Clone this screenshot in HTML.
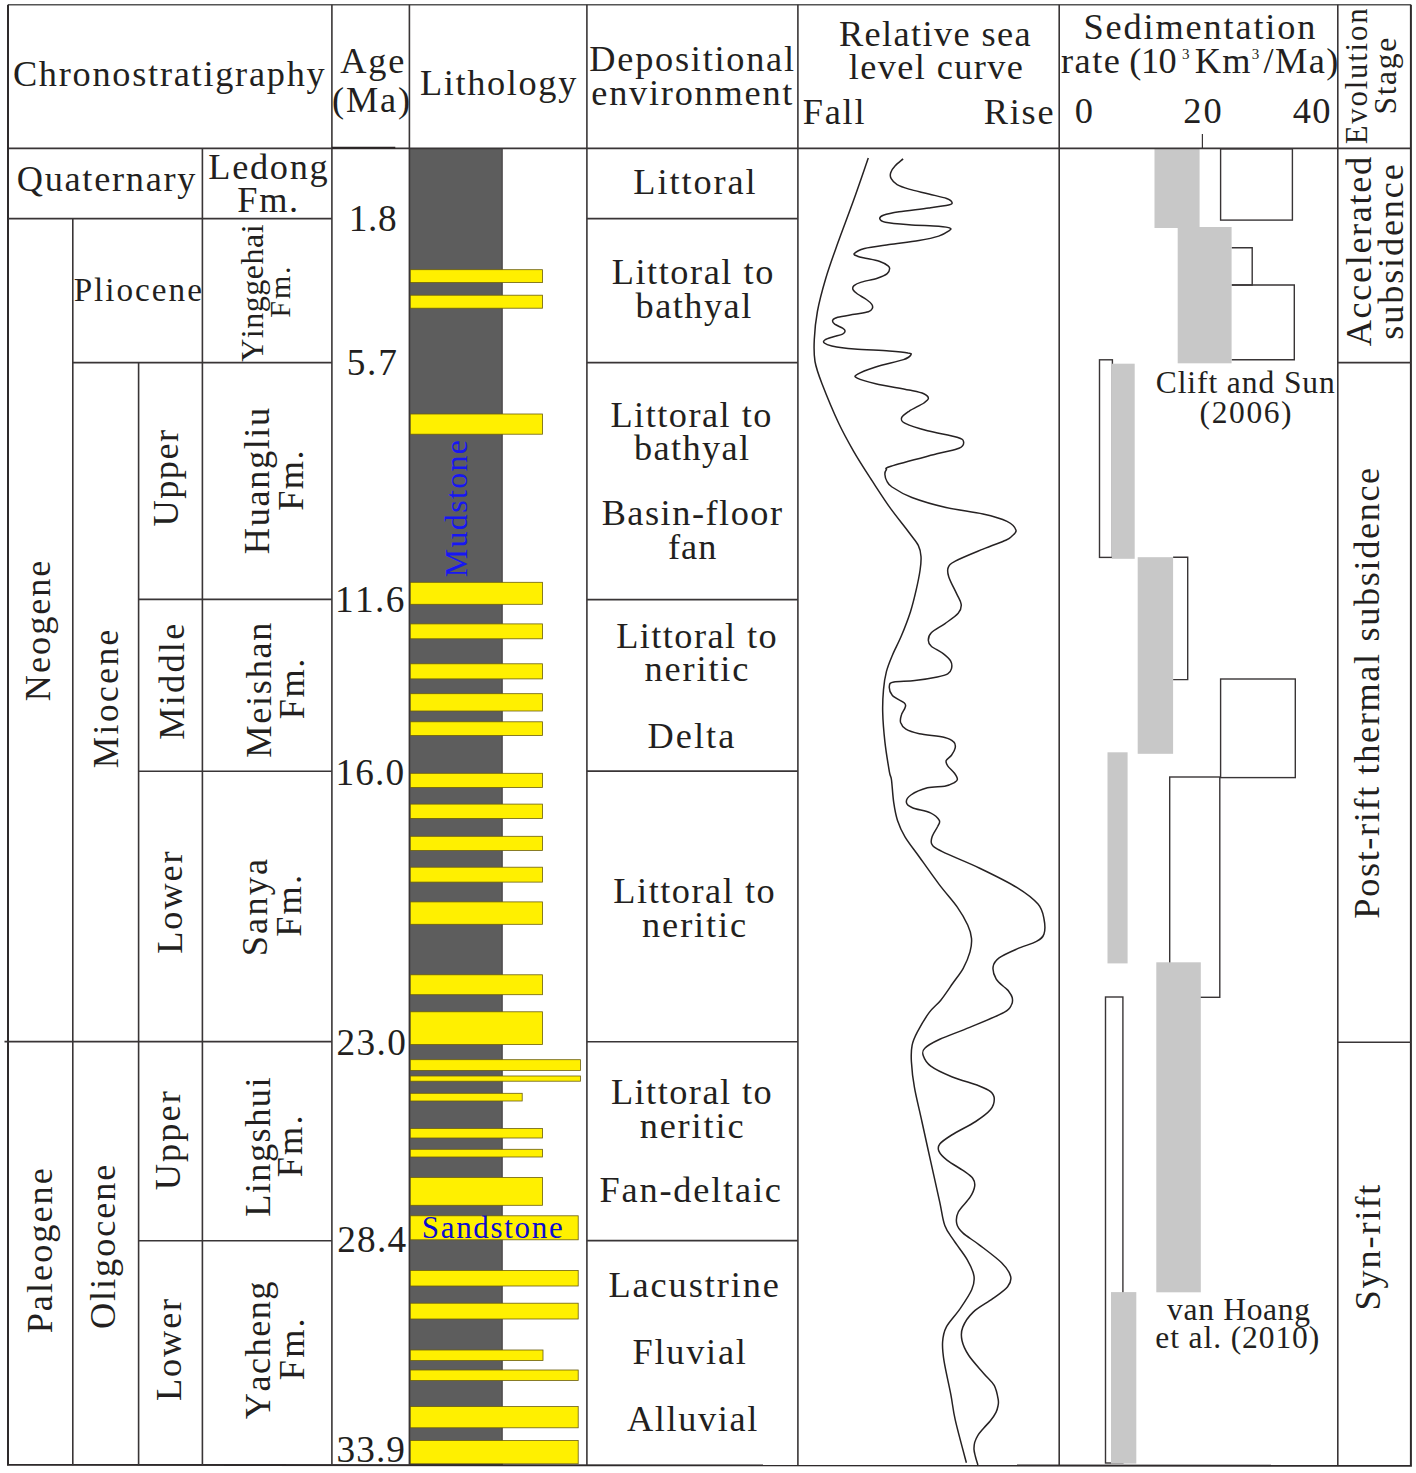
<!DOCTYPE html>
<html><head><meta charset="utf-8"><style>
html,body{margin:0;padding:0;background:#fff;}
svg{display:block;}
text{font-family:"Liberation Serif",serif;font-kerning:none;}
</style></head><body>
<svg width="1416" height="1473" viewBox="0 0 1416 1473">
<rect width="1416" height="1473" fill="#fff"/>
<rect x="409.4" y="148.4" width="93.2" height="1316.8" fill="#5d5d5d"/>
<line x1="502.1" y1="148.4" x2="502.1" y2="1465.2" stroke="#484345" stroke-width="1.0"/>
<rect x="410.2" y="269.7" width="132.4" height="12.9" fill="#fff000" stroke="#6b5e10" stroke-width="0.8"/>
<rect x="410.2" y="295.2" width="132.4" height="13.0" fill="#fff000" stroke="#6b5e10" stroke-width="0.8"/>
<rect x="410.2" y="414.0" width="132.4" height="20.2" fill="#fff000" stroke="#6b5e10" stroke-width="0.8"/>
<rect x="410.2" y="582.3" width="132.4" height="22.0" fill="#fff000" stroke="#6b5e10" stroke-width="0.8"/>
<rect x="410.2" y="623.9" width="132.4" height="14.9" fill="#fff000" stroke="#6b5e10" stroke-width="0.8"/>
<rect x="410.2" y="663.8" width="132.4" height="15.1" fill="#fff000" stroke="#6b5e10" stroke-width="0.8"/>
<rect x="410.2" y="693.7" width="132.4" height="17.3" fill="#fff000" stroke="#6b5e10" stroke-width="0.8"/>
<rect x="410.2" y="721.8" width="132.4" height="13.7" fill="#fff000" stroke="#6b5e10" stroke-width="0.8"/>
<rect x="410.2" y="773.3" width="132.4" height="14.2" fill="#fff000" stroke="#6b5e10" stroke-width="0.8"/>
<rect x="410.2" y="804.1" width="132.4" height="14.3" fill="#fff000" stroke="#6b5e10" stroke-width="0.8"/>
<rect x="410.2" y="836.3" width="132.4" height="14.2" fill="#fff000" stroke="#6b5e10" stroke-width="0.8"/>
<rect x="410.2" y="867.2" width="132.4" height="14.9" fill="#fff000" stroke="#6b5e10" stroke-width="0.8"/>
<rect x="410.2" y="901.9" width="132.4" height="22.4" fill="#fff000" stroke="#6b5e10" stroke-width="0.8"/>
<rect x="410.2" y="974.8" width="132.4" height="19.9" fill="#fff000" stroke="#6b5e10" stroke-width="0.8"/>
<rect x="410.2" y="1011.8" width="132.4" height="32.8" fill="#fff000" stroke="#6b5e10" stroke-width="0.8"/>
<rect x="410.2" y="1059.7" width="170.2" height="10.7" fill="#fff000" stroke="#6b5e10" stroke-width="0.8"/>
<rect x="410.2" y="1076.0" width="170.2" height="5.2" fill="#fff000" stroke="#6b5e10" stroke-width="0.8"/>
<rect x="410.2" y="1093.3" width="112.0" height="7.7" fill="#fff000" stroke="#6b5e10" stroke-width="0.8"/>
<rect x="410.2" y="1128.5" width="132.4" height="9.5" fill="#fff000" stroke="#6b5e10" stroke-width="0.8"/>
<rect x="410.2" y="1149.3" width="132.4" height="7.7" fill="#fff000" stroke="#6b5e10" stroke-width="0.8"/>
<rect x="410.2" y="1177.4" width="132.4" height="27.9" fill="#fff000" stroke="#6b5e10" stroke-width="0.8"/>
<rect x="410.2" y="1215.8" width="168.0" height="24.0" fill="#fff000" stroke="#6b5e10" stroke-width="0.8"/>
<rect x="410.2" y="1270.4" width="168.0" height="15.6" fill="#fff000" stroke="#6b5e10" stroke-width="0.8"/>
<rect x="410.2" y="1303.2" width="168.0" height="15.8" fill="#fff000" stroke="#6b5e10" stroke-width="0.8"/>
<rect x="410.2" y="1350.0" width="132.8" height="10.6" fill="#fff000" stroke="#6b5e10" stroke-width="0.8"/>
<rect x="410.2" y="1370.0" width="168.0" height="10.5" fill="#fff000" stroke="#6b5e10" stroke-width="0.8"/>
<rect x="410.2" y="1406.6" width="168.0" height="21.2" fill="#fff000" stroke="#6b5e10" stroke-width="0.8"/>
<rect x="410.2" y="1440.5" width="168.0" height="23.3" fill="#fff000" stroke="#6b5e10" stroke-width="0.8"/>
<rect x="1220.6" y="148.9" width="71.8" height="71.2" fill="none" stroke="#393536" stroke-width="1.4"/>
<path d="M1231.6,247.8 H1252.2 V285 H1231.6" fill="none" stroke="#393536" stroke-width="1.4"/>
<path d="M1231.6,285 H1294.3 V359.8 H1231.6" fill="none" stroke="#393536" stroke-width="1.4"/>
<rect x="1099.5" y="359.8" width="12.9" height="197.6" fill="none" stroke="#393536" stroke-width="1.4"/>
<path d="M1173.1,557.2 H1187.7 V679.6 H1173.1" fill="none" stroke="#393536" stroke-width="1.4"/>
<rect x="1220.6" y="679" width="74.7" height="98.6" fill="none" stroke="#393536" stroke-width="1.4"/>
<rect x="1169.7" y="777" width="50.1" height="220.3" fill="none" stroke="#393536" stroke-width="1.4"/>
<rect x="1105.5" y="997" width="17.4" height="466.0" fill="none" stroke="#393536" stroke-width="1.4"/>
<rect x="1154.5" y="148.3" width="45.1" height="79.7" fill="#c8c8c8"/>
<rect x="1177.7" y="227" width="53.9" height="136.3" fill="#c8c8c8"/>
<rect x="1111.8" y="363.7" width="22.9" height="195.1" fill="#c8c8c8"/>
<rect x="1137.7" y="557.2" width="35.4" height="196.6" fill="#c8c8c8"/>
<rect x="1107.5" y="752.3" width="20.1" height="211.1" fill="#c8c8c8"/>
<rect x="1156.3" y="962.3" width="44.5" height="330.0" fill="#c8c8c8"/>
<rect x="1111" y="1292.1" width="25.3" height="171.5" fill="#c8c8c8"/>
<line x1="8.0" y1="4.8" x2="1410.9" y2="4.8" stroke="#555" stroke-width="1.4"/>
<line x1="8.0" y1="148.4" x2="1410.9" y2="148.4" stroke="#393536" stroke-width="1.6"/>
<line x1="7.0" y1="1464.9" x2="1411.9" y2="1465.8" stroke="#2e2a2b" stroke-width="1.9"/>
<line x1="8.0" y1="4.8" x2="8.0" y2="1465.2" stroke="#2e2a2b" stroke-width="2.0"/>
<line x1="331.9" y1="4.8" x2="331.9" y2="1465.2" stroke="#393536" stroke-width="1.6"/>
<line x1="409.4" y1="4.8" x2="409.4" y2="1465.2" stroke="#393536" stroke-width="1.6"/>
<line x1="586.9" y1="4.8" x2="586.9" y2="1465.2" stroke="#393536" stroke-width="1.6"/>
<line x1="797.9" y1="4.8" x2="797.9" y2="1465.2" stroke="#393536" stroke-width="1.6"/>
<line x1="1059.2" y1="4.8" x2="1059.2" y2="1465.2" stroke="#393536" stroke-width="1.6"/>
<line x1="1337.8" y1="4.8" x2="1337.8" y2="1465.2" stroke="#393536" stroke-width="1.6"/>
<line x1="1410.9" y1="4.8" x2="1410.9" y2="1465.2" stroke="#2e2a2b" stroke-width="2.0"/>
<line x1="331.9" y1="147.8" x2="395.3" y2="147.8" stroke="#2a2526" stroke-width="2.0"/>
<line x1="72.8" y1="218.5" x2="72.8" y2="1465.2" stroke="#393536" stroke-width="1.6"/>
<line x1="138.6" y1="362.6" x2="138.6" y2="1465.2" stroke="#393536" stroke-width="1.6"/>
<line x1="202.4" y1="148.4" x2="202.4" y2="1465.2" stroke="#393536" stroke-width="1.6"/>
<line x1="8.0" y1="218.6" x2="331.9" y2="218.6" stroke="#393536" stroke-width="1.6"/>
<line x1="586.9" y1="218.6" x2="797.9" y2="218.6" stroke="#393536" stroke-width="1.6"/>
<line x1="72.8" y1="362.6" x2="331.9" y2="362.6" stroke="#393536" stroke-width="1.6"/>
<line x1="586.9" y1="362.6" x2="797.9" y2="362.6" stroke="#393536" stroke-width="1.6"/>
<line x1="1337.8" y1="362.6" x2="1410.9" y2="362.6" stroke="#393536" stroke-width="1.6"/>
<line x1="138.6" y1="599.4" x2="331.9" y2="599.4" stroke="#393536" stroke-width="1.6"/>
<line x1="586.9" y1="599.6" x2="797.9" y2="599.6" stroke="#393536" stroke-width="1.6"/>
<line x1="138.6" y1="771.2" x2="331.9" y2="771.2" stroke="#393536" stroke-width="1.6"/>
<line x1="586.9" y1="771.1" x2="797.9" y2="771.1" stroke="#393536" stroke-width="1.6"/>
<line x1="4.5" y1="1041.6" x2="331.9" y2="1041.6" stroke="#393536" stroke-width="1.6"/>
<line x1="586.9" y1="1041.8" x2="797.9" y2="1041.8" stroke="#393536" stroke-width="1.6"/>
<line x1="1337.8" y1="1042.2" x2="1410.9" y2="1042.2" stroke="#393536" stroke-width="1.6"/>
<line x1="138.6" y1="1240.8" x2="331.9" y2="1240.8" stroke="#393536" stroke-width="1.6"/>
<line x1="586.9" y1="1240.6" x2="797.9" y2="1240.6" stroke="#393536" stroke-width="1.6"/>
<line x1="1202.4" y1="134" x2="1202.4" y2="148.4" stroke="#393536" stroke-width="1.2"/>
<path d="M868.3,158.0 C865.8,165.1 858.6,186.3 853.5,200.5 C848.4,214.7 842.4,230.1 837.8,243.0 C833.2,255.9 829.2,266.8 825.8,278.2 C822.4,289.6 819.3,301.3 817.4,311.5 C815.5,321.7 814.7,331.0 814.3,339.3 C813.9,347.6 813.7,354.1 815.0,361.5 C816.3,368.9 818.0,373.4 822.0,383.7 C826.0,394.0 833.5,412.1 838.7,423.3 C844.0,434.5 848.0,441.5 853.5,451.1 C859.0,460.7 865.8,471.1 872.0,480.7 C878.2,490.2 884.3,499.8 890.5,508.4 C896.7,517.0 904.4,526.3 909.0,532.5 C913.6,538.7 916.3,541.4 918.3,545.4 C920.3,549.4 920.7,552.4 921.0,556.5 C921.3,560.6 920.9,564.5 920.1,570.0 C919.3,575.5 917.9,582.4 916.3,589.4 C914.7,596.4 912.9,604.2 910.4,611.9 C907.9,619.6 904.4,628.6 901.4,635.8 C898.4,643.0 894.9,649.2 892.4,655.2 C889.9,661.2 887.9,665.9 886.4,671.6 C884.9,677.3 884.1,682.9 883.5,689.6 C882.9,696.3 882.5,703.3 882.7,712.0 C882.9,720.7 883.8,731.9 884.9,741.9 C886.0,751.9 888.3,765.4 889.4,771.8 C890.5,778.1 890.8,774.9 891.5,780.0 C892.2,785.1 892.7,795.7 893.7,802.4 C894.7,809.1 895.6,814.7 897.5,820.4 C899.4,826.1 901.3,830.6 905.0,836.8 C908.7,843.0 914.2,849.7 919.9,857.7 C925.6,865.7 933.1,876.4 939.3,884.6 C945.5,892.8 952.6,900.4 957.3,907.1 C962.0,913.8 965.3,919.8 967.7,925.0 C970.1,930.2 971.1,933.9 971.5,938.4 C971.9,942.9 971.4,946.9 970.0,951.9 C968.6,956.9 966.1,963.1 963.2,968.3 C960.3,973.5 956.5,978.0 952.8,983.3 C949.1,988.6 944.7,995.4 940.8,1000.2 C936.9,1005.1 933.2,1007.1 929.3,1012.4 C925.4,1017.7 920.3,1026.4 917.4,1031.9 C914.5,1037.4 913.1,1040.3 912.1,1045.3 C911.1,1050.3 911.0,1054.7 911.4,1061.7 C911.8,1068.7 912.6,1077.2 914.4,1087.2 C916.1,1097.2 919.2,1109.0 921.9,1121.5 C924.6,1134.0 927.8,1148.4 930.8,1161.9 C933.8,1175.4 937.5,1191.7 939.8,1202.3 C942.1,1212.9 942.5,1219.1 944.8,1225.4 C947.1,1231.8 950.0,1234.7 953.8,1240.4 C957.5,1246.1 963.9,1253.8 967.3,1259.8 C970.7,1265.8 973.3,1271.2 974.0,1276.2 C974.7,1281.2 974.1,1284.2 971.7,1289.7 C969.3,1295.2 964.0,1302.9 959.8,1309.1 C955.6,1315.3 949.2,1321.6 946.3,1327.1 C943.4,1332.6 943.0,1336.3 942.6,1342.0 C942.2,1347.7 942.7,1352.7 944.1,1361.4 C945.5,1370.1 948.9,1384.5 950.8,1394.3 C952.7,1404.1 952.7,1408.8 955.3,1420.2 C957.9,1431.6 964.5,1455.7 966.4,1462.8" fill="none" stroke="#262223" stroke-width="1.5"/>
<path d="M903.1,158.9 C901.8,160.1 897.3,163.5 895.2,165.8 C893.1,168.1 891.4,170.5 890.7,172.7 C890.0,174.8 890.1,176.7 891.2,178.7 C892.3,180.7 894.1,182.9 897.1,184.6 C900.1,186.3 903.7,187.5 909.0,189.1 C914.3,190.7 922.5,192.4 928.8,194.0 C935.1,195.6 942.7,197.1 946.6,198.5 C950.5,199.9 951.7,201.3 952.0,202.4 C952.3,203.5 952.5,204.0 948.6,204.9 C944.7,205.8 937.0,206.8 928.8,207.9 C920.5,209.1 906.7,210.6 899.1,211.8 C891.5,213.0 886.5,214.2 883.3,215.3 C880.1,216.5 879.5,217.5 879.8,218.7 C880.1,219.8 880.4,221.2 885.3,222.2 C890.2,223.2 900.1,224.0 909.0,224.7 C917.9,225.4 931.9,225.6 938.7,226.2 C945.6,226.8 948.5,227.3 950.1,228.1 C951.8,228.9 950.5,229.8 948.6,231.1 C946.7,232.4 943.7,234.5 938.7,236.1 C933.8,237.7 927.1,239.1 918.9,240.5 C910.6,241.9 898.3,243.2 889.2,244.5 C880.1,245.8 870.3,246.9 864.5,248.4 C858.7,249.9 855.5,252.2 854.3,253.5 C853.1,254.8 855.6,255.4 857.5,256.2 C859.4,257.0 861.8,257.4 865.4,258.2 C869.0,259.0 875.4,259.9 879.2,261.2 C883.0,262.5 886.4,264.5 888.1,265.8 C889.8,267.1 889.8,267.5 889.6,268.8 C889.5,270.1 889.2,272.1 887.2,273.7 C885.2,275.3 881.6,276.8 877.3,278.2 C873.0,279.6 865.3,280.9 861.4,282.1 C857.5,283.3 855.4,284.4 854.0,285.6 C852.6,286.9 852.4,288.2 853.0,289.6 C853.6,291.0 855.3,292.4 857.5,294.0 C859.7,295.6 864.0,297.8 866.4,299.5 C868.8,301.2 870.8,302.9 871.8,304.4 C872.8,305.9 872.9,307.2 872.3,308.4 C871.7,309.6 871.4,310.8 868.4,311.8 C865.4,312.8 859.6,313.4 854.5,314.3 C849.4,315.2 841.3,316.3 837.7,317.3 C834.1,318.3 833.2,319.1 832.7,320.2 C832.2,321.3 833.1,322.9 834.7,324.2 C836.4,325.5 840.9,327.0 842.6,328.1 C844.3,329.2 845.1,330.1 845.1,331.1 C845.1,332.1 844.7,333.1 842.6,334.1 C840.5,335.1 835.7,336.0 832.7,337.0 C829.7,338.0 826.2,339.0 824.8,340.0 C823.4,341.0 823.1,342.0 824.3,343.0 C825.5,344.0 826.8,344.9 831.8,345.9 C836.8,346.9 845.0,348.1 854.5,348.9 C864.0,349.7 880.2,350.2 889.1,350.9 C898.0,351.6 904.3,352.2 907.9,352.9 C911.5,353.5 911.6,353.7 910.9,354.8 C910.2,355.9 909.4,357.6 903.5,359.6 C897.6,361.6 883.4,364.5 875.7,367.0 C868.0,369.5 860.3,372.5 857.2,374.4 C854.1,376.2 854.1,376.6 857.2,378.1 C860.3,379.7 867.1,381.7 875.7,383.7 C884.3,385.7 901.0,388.3 909.0,390.0 C917.0,391.7 920.6,392.3 923.8,393.7 C927.0,395.1 928.4,396.8 928.4,398.3 C928.4,399.9 927.0,400.8 923.8,403.0 C920.6,405.2 912.7,408.8 909.0,411.3 C905.3,413.8 902.2,415.8 901.6,417.8 C901.0,419.8 901.0,421.2 905.3,423.3 C909.6,425.4 918.9,428.4 927.5,430.7 C936.1,433.0 951.1,435.3 957.1,437.2 C963.1,439.1 963.3,439.9 963.6,441.8 C963.9,443.7 963.5,446.3 959.0,448.3 C954.5,450.3 948.1,450.8 936.8,453.8 C925.5,456.8 899.4,463.5 891.0,466.2 C882.6,468.9 887.3,468.4 886.3,469.8 C885.3,471.2 884.8,472.6 884.9,474.5 C885.0,476.4 885.6,478.9 886.8,481.0 C888.0,483.1 887.8,484.2 892.0,487.0 C896.2,489.8 902.9,494.1 911.9,497.5 C920.9,500.9 934.1,504.8 946.0,507.5 C957.9,510.2 972.8,511.7 983.0,514.0 C993.2,516.3 1001.5,518.7 1007.0,521.4 C1012.5,524.1 1015.2,527.7 1016.0,530.2 C1016.8,532.7 1013.2,534.8 1011.5,536.5 C1009.8,538.2 1010.5,538.2 1005.8,540.3 C1001.0,542.4 991.4,545.6 983.0,549.1 C974.6,552.6 961.1,558.0 955.3,561.1 C949.5,564.2 949.3,565.0 948.2,567.6 C947.1,570.2 947.4,572.5 948.8,576.9 C950.2,581.3 954.6,589.3 956.7,593.9 C958.8,598.5 961.0,601.2 961.2,604.4 C961.5,607.6 961.0,610.1 958.2,613.3 C955.5,616.5 949.2,620.5 944.7,623.8 C940.2,627.0 934.0,630.0 931.3,632.8 C928.6,635.5 928.3,638.1 928.3,640.3 C928.3,642.5 928.8,644.0 931.3,646.2 C933.8,648.4 940.0,651.2 943.2,653.7 C946.4,656.2 949.3,658.7 950.7,661.2 C952.1,663.7 952.0,666.6 951.5,668.7 C951.0,670.8 950.1,672.5 947.7,673.9 C945.3,675.3 942.8,675.8 937.3,676.9 C931.8,678.0 922.0,679.7 914.8,680.6 C907.6,681.5 898.1,681.2 893.9,682.1 C889.7,683.0 889.6,683.5 889.4,685.8 C889.1,688.0 889.9,692.7 892.4,695.6 C894.9,698.5 902.3,701.0 904.4,703.0 C906.5,705.0 905.6,705.5 905.1,707.5 C904.6,709.5 902.1,712.5 901.4,715.0 C900.6,717.5 899.9,720.1 900.6,722.5 C901.4,724.9 902.8,727.3 905.9,729.2 C909.0,731.1 912.8,732.3 919.3,733.7 C925.8,735.1 939.0,736.0 944.7,737.4 C950.4,738.8 952.0,740.1 953.7,741.9 C955.5,743.6 955.6,745.7 955.2,747.9 C954.8,750.1 953.0,753.2 951.5,755.3 C950.0,757.4 946.8,758.9 946.2,760.6 C945.6,762.4 946.3,763.7 947.7,765.8 C949.1,767.9 952.9,771.0 954.5,773.3 C956.1,775.5 957.4,777.8 957.4,779.3 C957.4,780.8 956.6,781.4 954.5,782.5 C952.4,783.6 949.2,785.3 944.7,786.2 C940.2,787.1 933.0,786.3 927.4,787.8 C921.8,789.3 914.4,792.6 910.9,795.0 C907.4,797.4 906.1,800.3 906.4,802.4 C906.6,804.5 908.4,806.0 912.4,807.7 C916.4,809.5 925.9,810.8 930.4,812.9 C934.9,815.0 938.1,818.2 939.3,820.4 C940.5,822.6 938.9,823.7 937.8,826.3 C936.6,828.9 933.4,833.0 932.4,836.0 C931.4,839.0 930.2,841.7 931.9,844.3 C933.5,846.9 934.3,847.7 942.3,851.7 C950.3,855.7 967.2,862.2 979.7,868.2 C992.2,874.2 1007.4,881.6 1017.1,887.6 C1026.8,893.6 1033.5,898.9 1038.0,904.1 C1042.5,909.3 1043.0,914.0 1044.0,919.0 C1045.0,924.0 1045.2,930.3 1044.0,934.0 C1042.8,937.7 1041.0,938.9 1036.5,941.4 C1032.0,943.9 1023.3,946.1 1017.1,948.9 C1010.9,951.6 1003.1,954.9 999.1,957.9 C995.1,960.9 993.6,963.3 993.1,966.8 C992.6,970.3 994.1,975.3 996.1,978.8 C998.1,982.3 1003.0,985.8 1005.1,987.8 C1007.2,989.8 1007.3,989.4 1008.5,991.0 C1009.7,992.6 1011.7,995.2 1012.2,997.5 C1012.7,999.8 1013.0,1002.0 1011.6,1004.5 C1010.2,1007.0 1011.1,1008.6 1004.1,1012.4 C997.1,1016.2 980.4,1022.9 969.7,1027.4 C959.0,1031.9 947.3,1035.8 939.8,1039.3 C932.3,1042.8 927.5,1045.5 924.8,1048.3 C922.0,1051.0 922.3,1052.8 923.3,1055.8 C924.3,1058.8 926.1,1062.7 930.8,1066.2 C935.5,1069.7 943.7,1073.5 951.7,1076.7 C959.7,1080.0 972.2,1083.2 978.7,1085.7 C985.2,1088.2 988.0,1089.4 990.6,1091.6 C993.2,1093.8 994.3,1096.1 994.3,1099.1 C994.3,1102.1 993.7,1105.9 990.6,1109.6 C987.5,1113.3 982.2,1117.3 975.7,1121.5 C969.2,1125.7 957.7,1131.2 951.7,1135.0 C945.7,1138.8 941.9,1141.3 939.8,1144.0 C937.7,1146.7 937.8,1148.7 939.0,1151.4 C940.2,1154.1 943.2,1157.2 947.3,1160.4 C951.4,1163.7 959.5,1167.9 963.7,1170.9 C967.9,1173.9 970.9,1175.8 972.7,1178.3 C974.5,1180.8 975.1,1182.9 974.7,1186.1 C974.3,1189.2 972.8,1192.9 970.1,1197.2 C967.4,1201.5 960.5,1207.5 958.3,1212.0 C956.1,1216.5 956.0,1220.4 956.8,1223.9 C957.5,1227.4 959.1,1229.4 962.8,1232.9 C966.5,1236.4 972.7,1239.8 979.2,1244.8 C985.7,1249.8 996.4,1257.6 1001.6,1262.8 C1006.8,1268.0 1009.6,1272.2 1010.6,1276.2 C1011.6,1280.2 1010.6,1283.0 1007.6,1286.7 C1004.6,1290.5 998.4,1294.5 992.7,1298.7 C987.0,1302.9 978.2,1307.4 973.2,1312.1 C968.2,1316.8 964.7,1322.4 962.8,1327.1 C960.9,1331.8 961.0,1335.8 962.0,1340.5 C963.0,1345.2 965.2,1350.0 968.8,1355.5 C972.4,1361.0 979.5,1368.4 983.7,1373.4 C987.9,1378.4 991.8,1381.1 994.2,1385.4 C996.6,1389.8 997.6,1396.1 998.2,1399.5 C998.8,1402.9 998.4,1403.9 998.0,1406.0 C997.6,1408.1 997.2,1409.9 996.0,1412.3 C994.8,1414.7 992.7,1417.8 990.6,1420.5 C988.5,1423.2 985.7,1425.7 983.6,1428.2 C981.5,1430.7 979.4,1432.9 977.9,1435.3 C976.4,1437.7 975.4,1440.1 974.7,1442.4 C974.1,1444.8 973.9,1447.1 974.0,1449.4 C974.1,1451.8 974.8,1453.9 975.4,1456.5 C976.0,1459.1 977.5,1463.6 977.9,1465.0" fill="none" stroke="#262223" stroke-width="1.5"/>
<text x="12.91" y="85.80" font-size="36.3" letter-spacing="1.738" fill="#231f20">Chronostratigraphy</text>
<text x="340.35" y="72.60" font-size="36.3" letter-spacing="1.818" fill="#231f20">Age</text>
<text x="332.10" y="112.20" font-size="36.3" letter-spacing="1.809" fill="#231f20">(Ma)</text>
<text x="419.95" y="94.80" font-size="36.3" letter-spacing="1.651" fill="#231f20">Lithology</text>
<text x="589.35" y="71.30" font-size="36.3" letter-spacing="1.742" fill="#231f20">Depositional</text>
<text x="591.28" y="104.80" font-size="36.3" letter-spacing="1.766" fill="#231f20">environment</text>
<text x="838.95" y="45.60" font-size="36.3" letter-spacing="1.397" fill="#231f20">Relative sea</text>
<text x="848.67" y="79.40" font-size="36.3" letter-spacing="1.395" fill="#231f20">level curve</text>
<text x="802.85" y="123.70" font-size="36.3" letter-spacing="1.734" fill="#231f20">Fall</text>
<text x="983.75" y="123.70" font-size="36.3" letter-spacing="1.756" fill="#231f20">Rise</text>
<text x="1083.47" y="39.30" font-size="36.3" letter-spacing="1.856" fill="#231f20">Sedimentation</text>
<text x="1061.07" y="72.90" font-size="36.3" letter-spacing="1.463" fill="#231f20">rate</text>
<text x="1129.30" y="72.90" font-size="36.3" letter-spacing="-0.505" fill="#231f20">(10</text>
<text x="1181.98" y="58.60" font-size="15" letter-spacing="0.000" fill="#231f20">3</text>
<text x="1194.65" y="72.90" font-size="36.3" letter-spacing="1.463" fill="#231f20">Km</text>
<text x="1251.68" y="58.60" font-size="15" letter-spacing="0.000" fill="#231f20">3</text>
<text x="1263.40" y="72.90" font-size="36.3" letter-spacing="1.445" fill="#231f20">/Ma)</text>
<text x="1074.81" y="122.80" font-size="36.5" letter-spacing="0.000" fill="#231f20">0</text>
<text x="1183.20" y="122.80" font-size="36.5" letter-spacing="2.094" fill="#231f20">20</text>
<text x="1292.79" y="122.80" font-size="36.5" letter-spacing="1.203" fill="#231f20">40</text>
<text transform="translate(1366.60,143.40) rotate(-90)" x="-0.88" y="0" font-size="30.7" letter-spacing="1.845" fill="#231f20">Evolution</text>
<text transform="translate(1395.90,112.40) rotate(-90)" x="-2.11" y="0" font-size="31.5" letter-spacing="1.679" fill="#231f20">Stage</text>
<text x="16.71" y="191.00" font-size="36.3" letter-spacing="1.719" fill="#231f20">Quaternary</text>
<text x="208.35" y="178.80" font-size="36.3" letter-spacing="1.690" fill="#231f20">Ledong</text>
<text x="237.25" y="212.30" font-size="36.3" letter-spacing="1.720" fill="#231f20">Fm.</text>
<text x="73.64" y="300.60" font-size="33.2" letter-spacing="1.998" fill="#231f20">Pliocene</text>
<text transform="translate(262.60,361.50) rotate(-90)" x="-0.36" y="0" font-size="32" letter-spacing="0.534" fill="#231f20">Yinggehai</text>
<text transform="translate(290.00,316.80) rotate(-90)" x="-0.86" y="0" font-size="30" letter-spacing="1.861" fill="#231f20">Fm.</text>
<text transform="translate(177.67,525.70) rotate(-90)" x="-0.76" y="0" font-size="36.3" letter-spacing="1.442" fill="#231f20">Upper</text>
<text transform="translate(269.20,553.10) rotate(-90)" x="-1.05" y="0" font-size="36.3" letter-spacing="1.610" fill="#231f20">Huangliu</text>
<text transform="translate(302.70,509.60) rotate(-90)" x="-1.05" y="0" font-size="36.3" letter-spacing="1.320" fill="#231f20">Fm.</text>
<text transform="translate(49.90,700.10) rotate(-90)" x="-1.05" y="0" font-size="36.3" letter-spacing="1.934" fill="#231f20">Neogene</text>
<text transform="translate(117.60,767.30) rotate(-90)" x="-1.02" y="0" font-size="35.3" letter-spacing="2.507" fill="#231f20">Miocene</text>
<text transform="translate(183.89,738.70) rotate(-90)" x="-1.05" y="0" font-size="36.3" letter-spacing="2.229" fill="#231f20">Middle</text>
<text transform="translate(270.79,756.70) rotate(-90)" x="-1.05" y="0" font-size="36.3" letter-spacing="1.697" fill="#231f20">Meishan</text>
<text transform="translate(303.67,718.30) rotate(-90)" x="-1.05" y="0" font-size="36.3" letter-spacing="1.620" fill="#231f20">Fm.</text>
<text transform="translate(181.97,952.70) rotate(-90)" x="-1.05" y="0" font-size="36.3" letter-spacing="1.907" fill="#231f20">Lower</text>
<text transform="translate(267.23,953.80) rotate(-90)" x="-2.43" y="0" font-size="36.3" letter-spacing="2.153" fill="#231f20">Sanya</text>
<text transform="translate(301.27,935.80) rotate(-90)" x="-1.05" y="0" font-size="36.3" letter-spacing="2.170" fill="#231f20">Fm.</text>
<text transform="translate(179.97,1189.50) rotate(-90)" x="-0.76" y="0" font-size="36.3" letter-spacing="2.117" fill="#231f20">Upper</text>
<text transform="translate(270.29,1215.80) rotate(-90)" x="-1.05" y="0" font-size="36.3" letter-spacing="1.467" fill="#231f20">Lingshui</text>
<text transform="translate(302.47,1176.30) rotate(-90)" x="-1.05" y="0" font-size="36.3" letter-spacing="2.220" fill="#231f20">Fm.</text>
<text transform="translate(51.79,1332.30) rotate(-90)" x="-1.05" y="0" font-size="36.3" letter-spacing="2.004" fill="#231f20">Paleogene</text>
<text transform="translate(115.09,1327.60) rotate(-90)" x="-1.49" y="0" font-size="36.3" letter-spacing="1.922" fill="#231f20">Oligocene</text>
<text transform="translate(181.27,1400.00) rotate(-90)" x="-1.05" y="0" font-size="36.3" letter-spacing="1.882" fill="#231f20">Lower</text>
<text transform="translate(270.29,1418.80) rotate(-90)" x="-0.41" y="0" font-size="36.3" letter-spacing="1.450" fill="#231f20">Yacheng</text>
<text transform="translate(303.67,1379.10) rotate(-90)" x="-1.05" y="0" font-size="36.3" letter-spacing="2.170" fill="#231f20">Fm.</text>
<text x="348.72" y="230.90" font-size="37.3" letter-spacing="0.687" fill="#231f20">1.8</text>
<text x="346.63" y="375.00" font-size="37.3" letter-spacing="1.808" fill="#231f20">5.7</text>
<text x="334.92" y="612.30" font-size="37.3" letter-spacing="1.371" fill="#231f20">11.6</text>
<text x="335.62" y="784.50" font-size="37.3" letter-spacing="1.108" fill="#231f20">16.0</text>
<text x="336.56" y="1054.50" font-size="37.3" letter-spacing="1.362" fill="#231f20">23.0</text>
<text x="337.16" y="1251.90" font-size="37.3" letter-spacing="1.249" fill="#231f20">28.4</text>
<text x="336.42" y="1461.70" font-size="37.3" letter-spacing="1.113" fill="#231f20">33.9</text>
<text transform="translate(467.00,576.40) rotate(-90)" x="-0.92" y="0" font-size="32" letter-spacing="1.333" fill="#1717f2">Mudstone</text>
<text x="421.83" y="1238.20" font-size="31" letter-spacing="1.677" fill="#0c0cd0">Sandstone</text>
<text x="633.35" y="194.40" font-size="36.3" letter-spacing="1.915" fill="#231f20">Littoral</text>
<text x="611.75" y="284.20" font-size="36.3" letter-spacing="1.545" fill="#231f20">Littoral to</text>
<text x="635.60" y="317.60" font-size="36.3" letter-spacing="1.464" fill="#231f20">bathyal</text>
<text x="610.45" y="427.30" font-size="36.3" letter-spacing="1.485" fill="#231f20">Littoral to</text>
<text x="634.00" y="460.00" font-size="36.3" letter-spacing="1.380" fill="#231f20">bathyal</text>
<text x="601.65" y="525.00" font-size="36.3" letter-spacing="1.513" fill="#231f20">Basin-floor</text>
<text x="667.88" y="558.50" font-size="36.3" letter-spacing="1.058" fill="#231f20">fan</text>
<text x="616.25" y="647.80" font-size="36.3" letter-spacing="1.425" fill="#231f20">Littoral to</text>
<text x="644.57" y="681.20" font-size="36.3" letter-spacing="1.855" fill="#231f20">neritic</text>
<text x="647.55" y="747.70" font-size="36.3" letter-spacing="2.033" fill="#231f20">Delta</text>
<text x="613.35" y="902.50" font-size="36.3" letter-spacing="1.515" fill="#231f20">Littoral to</text>
<text x="642.07" y="936.70" font-size="36.3" letter-spacing="1.905" fill="#231f20">neritic</text>
<text x="610.95" y="1103.50" font-size="36.3" letter-spacing="1.465" fill="#231f20">Littoral to</text>
<text x="639.67" y="1137.70" font-size="36.3" letter-spacing="1.855" fill="#231f20">neritic</text>
<text x="599.55" y="1202.00" font-size="36.3" letter-spacing="1.808" fill="#231f20">Fan-deltaic</text>
<text x="608.45" y="1297.40" font-size="36.3" letter-spacing="1.923" fill="#231f20">Lacustrine</text>
<text x="632.55" y="1363.60" font-size="36.3" letter-spacing="1.736" fill="#231f20">Fluvial</text>
<text x="627.05" y="1431.40" font-size="36.3" letter-spacing="1.602" fill="#231f20">Alluvial</text>
<text x="1155.71" y="393.40" font-size="31.5" letter-spacing="0.922" fill="#231f20">Clift and Sun</text>
<text x="1199.62" y="422.70" font-size="31.5" letter-spacing="1.598" fill="#231f20">(2006)</text>
<text x="1167.00" y="1320.20" font-size="31.5" letter-spacing="0.708" fill="#231f20">van Hoang</text>
<text x="1155.27" y="1348.30" font-size="31.5" letter-spacing="0.904" fill="#231f20">et al. (2010)</text>
<text transform="translate(1370.60,346.00) rotate(-90)" x="-0.35" y="0" font-size="36.3" letter-spacing="1.620" fill="#231f20">Accelerated</text>
<text transform="translate(1402.60,338.20) rotate(-90)" x="-1.49" y="0" font-size="36.3" letter-spacing="1.797" fill="#231f20">subsidence</text>
<text transform="translate(1379.00,917.60) rotate(-90)" x="-1.05" y="0" font-size="36.3" letter-spacing="1.616" fill="#231f20">Post-rift thermal subsidence</text>
<text transform="translate(1379.60,1308.00) rotate(-90)" x="-2.43" y="0" font-size="36.3" letter-spacing="1.845" fill="#231f20">Syn-rift</text>
</svg>
</body></html>
